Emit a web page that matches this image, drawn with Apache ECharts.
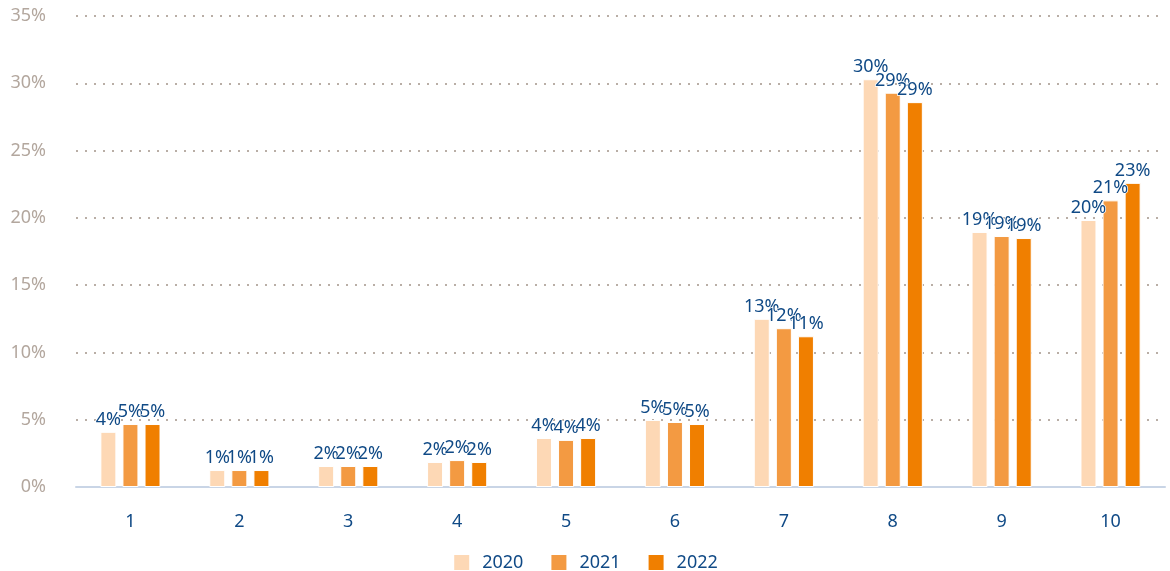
<!DOCTYPE html>
<html>
<head>
<meta charset="utf-8">
<script src="https://cdn.jsdelivr.net/npm/echarts@6/dist/echarts.min.js"></script>
<style>
  html, body { margin: 0; padding: 0; background: #fff; }
  #main { width: 1170px; height: 571px; }
</style>
</head>
<body>
<div id="main"></div>
<script>
const categories = ["1", "2", "3", "4", "5", "6", "7", "8", "9", "10"]
const years = ["2020", "2021", "2022"]
const values2020 = [4.1, 1.26, 1.56, 1.86, 3.64, 4.98, 12.5, 30.3, 18.95, 19.84]
const values2021 = [4.68, 1.26, 1.56, 2.0, 3.5, 4.83, 11.8, 29.3, 18.65, 21.3]
const values2022 = [4.68, 1.26, 1.56, 1.86, 3.64, 4.68, 11.2, 28.6, 18.5, 22.6]
const yTicks = [0, 5, 10, 15, 20, 25, 30, 35]

const colors = ["#fdd8b5", "#f39a42", "#f07f00"]
const labelColor = "#104a86"
const font = "Noto Sans"

const chart = echarts.init(document.getElementById("main"))

const makeSeries = (name, data, i) => ({
  name: name,
  type: "bar",
  data: data,
  barWidth: 16,
  barGap: "38%",
  itemStyle: { color: colors[i], borderColor: "#fff", borderWidth: 1 },
  label: {
    show: true,
    position: "top",
    distance: 3,
    color: labelColor,
    fontFamily: font,
    fontSize: 18,
    textBorderColor: "#fff",
    textBorderWidth: 1.5,
    formatter: (p) => Math.round(p.value) + "%",
  },
})

chart.setOption({
  animation: false,
  textStyle: { fontFamily: font },
  grid: { left: 76, right: 5, top: 16, bottom: 84 },
  legend: {
    top: 548,
    left: "center",
    itemWidth: 17,
    itemHeight: 17,
    itemGap: 26,
    icon: "rect",
    textStyle: { color: labelColor, fontSize: 18, fontFamily: font, padding: [0, 0, 0, 7] },
    data: years,
  },
  xAxis: {
    type: "category",
    data: categories,
    axisTick: { show: false },
    axisLine: { show: true, lineStyle: { color: "#c9d5e6", width: 2 } },
    axisLabel: { color: labelColor, fontSize: 18, margin: 26, fontFamily: font },
  },
  yAxis: {
    type: "value",
    min: yTicks[0],
    max: yTicks[yTicks.length - 1],
    interval: 5,
    axisLine: { show: false },
    axisTick: { show: false },
    axisLabel: {
      color: "#b3a79e",
      fontSize: 18,
      margin: 30,
      fontFamily: font,
      formatter: (v) => v + "%",
    },
    splitLine: {
      lineStyle: { color: "#b9aea6", type: [2, 7], width: 2 },
    },
  },
  series: [
    makeSeries(years[0], values2020, 0),
    makeSeries(years[1], values2021, 1),
    makeSeries(years[2], values2022, 2),
  ],
})
</script>
</body>
</html>
